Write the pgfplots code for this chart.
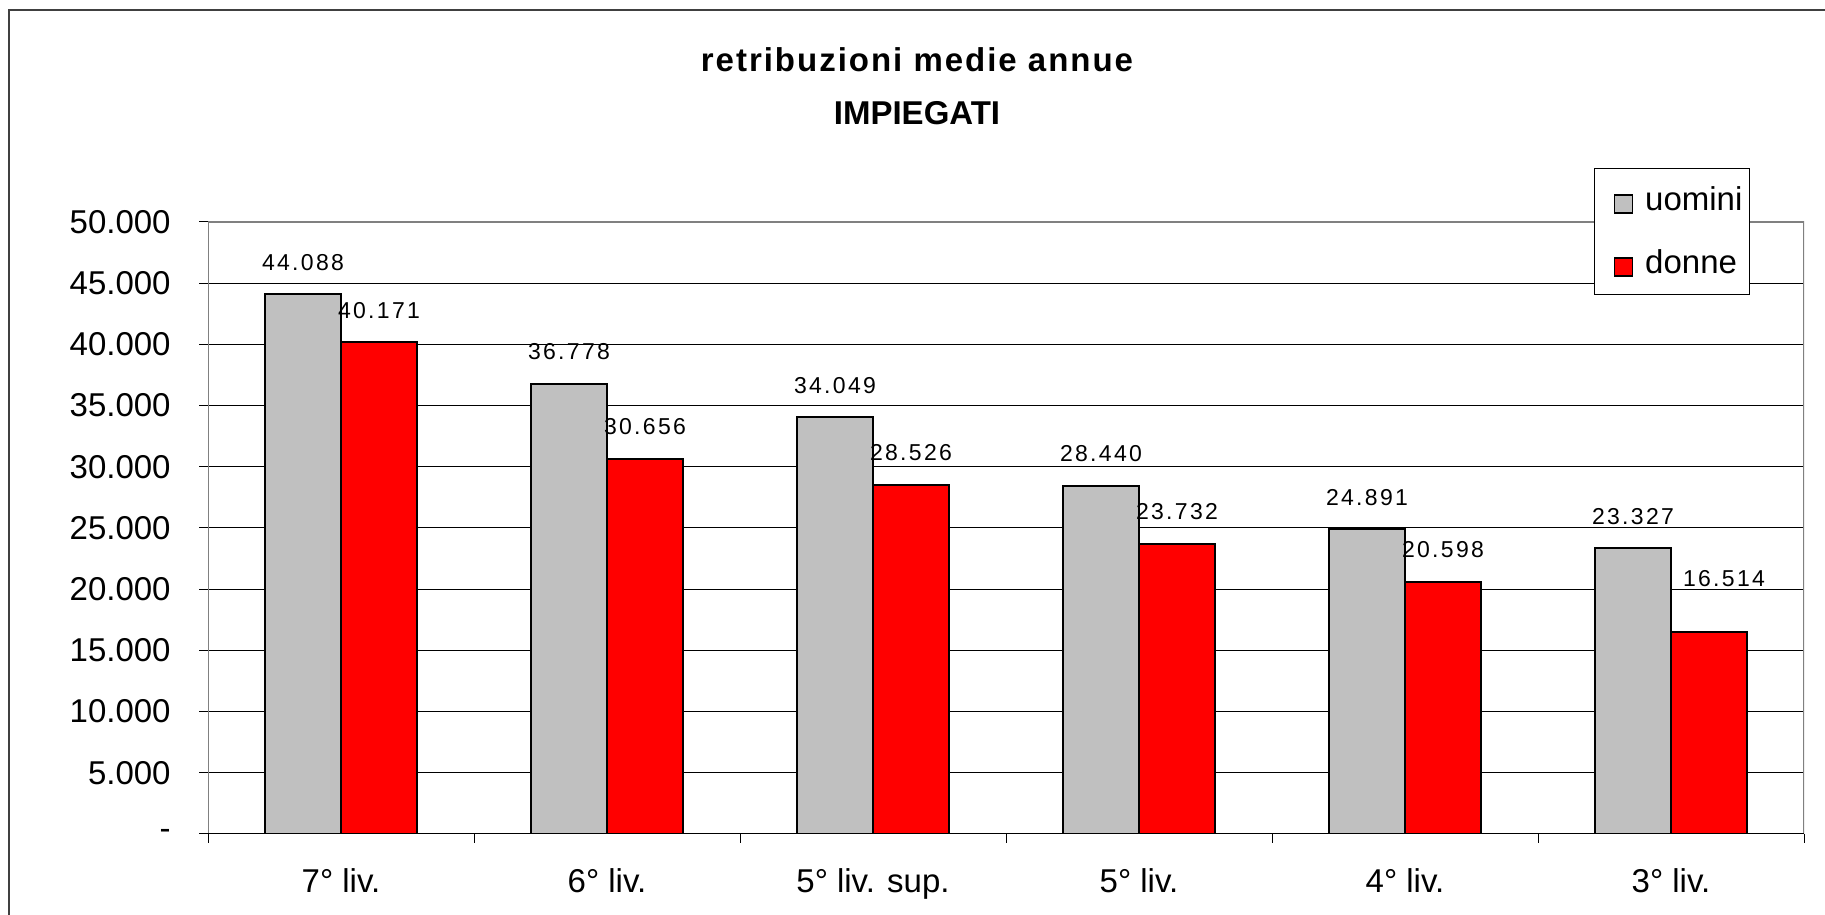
\documentclass[border=0pt]{standalone}
\usepackage{pgfplots}
\pgfplotsset{compat=1.18}
\usepackage{pgfplotstable}
\usepackage{fontspec}
\setmainfont{Liberation Sans}
\newfontfamily\lblfont{Liberation Sans}[LetterSpace=10]
\newfontfamily\titlefont{Liberation Sans}[LetterSpace=6]
\definecolor{barGray}{HTML}{C0C0C0}
\definecolor{barRed}{HTML}{FF0000}
\definecolor{frameGray}{HTML}{808080}

\pgfplotstableread{
x y label dx dy
0 44088 44.088 -19 12
1 36778 36.778 -19 12
2 34049 34.049 -19 12
3 28440 28.440 -19 12
4 24891 24.891 -19 12
5 23327 23.327 -19 12
}\uomini

\pgfplotstableread{
x y label dx dy
0 40171 40.171 19 12
1 30656 30.656 19 12
2 28526 28.526 19 12
3 23732 23.732 19 12
4 20598 20.598 19 12
5 16514 16.514 26.5 22.5
}\donne

\begin{document}
\begin{tikzpicture}[x=0.5pt,y=0.5pt]
\useasboundingbox (0,0) rectangle (1825,915);
\draw[line width=0.6pt, color=black!75] (9,-5) -- (9,905) -- (1830,905);
\node[anchor=base, inner sep=0pt, font=\titlefont\bfseries\fontsize{16.5}{18}\selectfont] at (917,843) {retribuzioni medie annue};
\node[anchor=base, inner sep=0pt, font=\bfseries\fontsize{16.5}{18}\selectfont] at (917,790) {IMPIEGATI};
\begin{axis}[
  at={(104pt,40.5pt)}, anchor=south west,
  width=798pt, height=306pt, scale only axis,
  xmin=-0.5, xmax=5.5, ymin=0, ymax=50000,
  scaled y ticks=false,
  axis line style={draw=none},
  ymajorgrids, grid style={black, line width=0.5pt},
  ytick={0,5000,10000,15000,20000,25000,30000,35000,40000,45000,50000},
  yticklabels={-,5.000,10.000,15.000,20.000,25.000,30.000,35.000,40.000,45.000,50.000},
  xtick={0,1,2,3,4,5},
  xticklabels={7° liv.,6° liv.,5° liv. sup.,5° liv.,4° liv.,3° liv.},
  minor xtick={-0.5,0.5,1.5,2.5,3.5,4.5,5.5},
  tick align=outside, tick pos=left,
  major tick length=4.5pt, minor tick length=4.5pt,
  major x tick style={draw=none},
  tick style={black, line width=0.5pt},
  ticklabel style={font=\fontsize{16.5}{18}\selectfont, text=black},
  yticklabel style={anchor=east, inner sep=0pt, xshift=-14pt},
  xticklabel style={anchor=base, inner sep=0pt, yshift=-25pt},
  legend style={at={(0.8684,1.0882)}, anchor=north west, draw=black, line width=0.5pt, fill=white,
    font=\fontsize{16.5}{18}\selectfont, inner xsep=3.5pt, inner ysep=9pt, row sep=18pt,
    nodes={inner sep=0pt, text=black},
    /tikz/every odd column/.append style={column sep=6pt}},
  legend cell align=left,
  legend image code/.code={\path (0pt,0pt); \draw[#1,/tikz/.cd,line width=0.75pt] (6pt,-6.4pt) rectangle (15pt,2.6pt);},
]
\addplot[ybar, bar width=0.285714, bar shift=-0.142857, fill=barGray, draw=black, line width=1pt,
  nodes near coords, point meta=explicit symbolic,
  visualization depends on={\thisrow{dx} \as \dx},
  visualization depends on={\thisrow{dy} \as \dy},
  nodes near coords style={anchor=base, inner sep=0pt, text=black, font=\lblfont\fontsize{11.5}{13}\selectfont, xshift=\dx pt, yshift=\dy pt}]
  table[x=x, y=y, meta=label]{\uomini};
\addlegendentry{uomini}
\addplot[ybar, bar width=0.285714, bar shift=0.142857, fill=barRed, draw=black, line width=1pt,
  nodes near coords, point meta=explicit symbolic,
  visualization depends on={\thisrow{dx} \as \dx},
  visualization depends on={\thisrow{dy} \as \dy},
  nodes near coords style={anchor=base, inner sep=0pt, text=black, font=\lblfont\fontsize{11.5}{13}\selectfont, xshift=\dx pt, yshift=\dy pt}]
  table[x=x, y=y, meta=label]{\donne};
\addlegendentry{donne}
\draw[frameGray, line width=1pt] (rel axis cs:0,0) -- (rel axis cs:0,1) -- (rel axis cs:1,1) -- (rel axis cs:1,0);
\draw[black, line width=1pt] (rel axis cs:0,0) -- (rel axis cs:1,0);
\end{axis}
\end{tikzpicture}
\end{document}
